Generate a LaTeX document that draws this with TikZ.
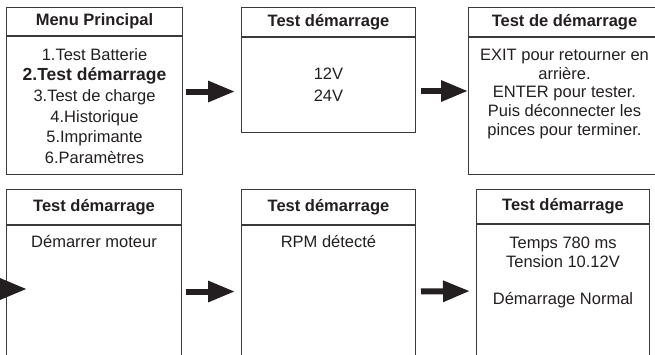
\documentclass[tikz,border=0pt]{standalone}
\usepackage{fontspec}
\setmainfont{Liberation Sans}
\usetikzlibrary{positioning, arrows.meta}

\definecolor{edge}{HTML}{3A3A3A}
\definecolor{ink}{HTML}{231F20}

\begin{document}
\begin{tikzpicture}[x=1pt, y=-1pt,
  every node/.style={font=\fontsize{16.5}{18.7}\selectfont, text=ink},
  hdr/.style={draw=edge, line width=1pt, inner sep=0pt, font=\fontsize{16.5}{18.7}\selectfont\bfseries},
  panel/.style={draw=edge, line width=1pt, inner sep=0pt},
  txt/.style={align=center, inner sep=0pt},
  arr/.style={-{Triangle[length=27pt,width=20pt]}, line width=6pt, draw=ink}]

  \useasboundingbox (0,0) rectangle (655,354);
  \clip (0,0) rectangle (655,354);

  % top row
  \node[hdr, minimum width=176pt, minimum height=28pt, anchor=north west] (menuh) at (6,7) {Menu Principal};
  \node[panel, minimum width=176pt, minimum height=138pt, below=0pt of menuh] (menub) {};
  \node[txt, font=\fontsize{16.5}{20.7}\selectfont, below=12pt of menub.north] (menut)
    {1.Test Batterie\\ {\fontsize{17.5}{20.7}\selectfont\bfseries 2.Test démarrage}\\ 3.Test de charge\\ 4.Historique\\ 5.Imprimante\\ 6.Paramètres};

  \node[hdr, minimum width=174pt, minimum height=29pt, anchor=north west] (volth) at (241,7) {Test démarrage};
  \node[panel, minimum width=174pt, minimum height=95pt, below=0pt of volth] (voltb) {};
  \node[txt, font=\fontsize{16.5}{21.7}\selectfont] (voltt) at (voltb) {12V\\24V};

  \node[hdr, minimum width=192pt, minimum height=29pt, anchor=north west] (infoh) at (468,7) {Test de démarrage};
  \node[panel, minimum width=192pt, minimum height=137pt, below=0pt of infoh] (infob) {};
  \node[txt, below=12pt of infob.north] (infot)
    {EXIT pour retourner en\\ arrière.\\ ENTER pour tester.\\ Puis déconnecter les\\ pinces pour terminer.};

  % bottom row
  \node[hdr, minimum width=175pt, minimum height=35pt, anchor=north west] (starth) at (6,189) {Test démarrage};
  \node[panel, minimum width=175pt, minimum height=132pt, below=0pt of starth] (startb) {};
  \node[txt, below=10pt of startb.north] (startt) {Démarrer moteur};

  \node[hdr, minimum width=174pt, minimum height=35pt, anchor=north west] (rpmh) at (241,189) {Test démarrage};
  \node[panel, minimum width=174pt, minimum height=132pt, below=0pt of rpmh] (rpmb) {};
  \node[txt, below=10pt of rpmb.north] (rpmt) {RPM détecté};

  \node[hdr, minimum width=173pt, minimum height=34pt, anchor=north west] (resh) at (476,189) {Test démarrage};
  \node[panel, minimum width=173pt, minimum height=133pt, below=0pt of resh] (resb) {};
  \node[txt, below=13pt of resb.north] (rest)
    {Temps 780 ms\\ Tension 10.12V\\ \\ Démarrage Normal};

  % arrows
  \path ([yshift=14pt]menub.east) coordinate (a1);
  \draw[arr, shorten <=3pt, shorten >=6pt] (a1) -- (a1 -| voltb.west);
  \path ([yshift=-6pt]voltb.east) coordinate (a2);
  \draw[arr, shorten <=5pt] (a2) -- (a2 -| infob.west);

  \coordinate (entry) at (-20,289);
  \draw[arr, shorten >=-21pt] (entry) -- (entry -| startb.west);
  \draw[arr, shorten <=4pt, shorten >=6pt] (startb.east) -- (rpmb.west);
  \draw[arr, shorten <=5pt, shorten >=6pt] (rpmb.east) -- (resb.west);

\end{tikzpicture}
\end{document}
